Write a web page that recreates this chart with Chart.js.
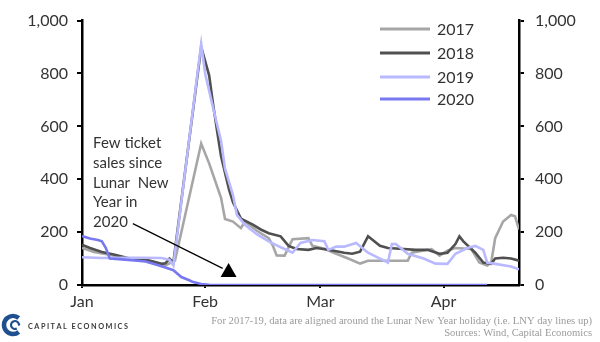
<!DOCTYPE html>
<html>
<head>
<meta charset="utf-8">
<script src="https://cdn.jsdelivr.net/npm/chart.js@4"></script>
<style>
  html, body { margin: 0; padding: 0; background: #fff; }
  #wrap { width: 600px; height: 342px; position: relative; }
</style>
</head>
<body>
<div id="wrap"><canvas id="lnyChart" width="600" height="342"></canvas></div>
<script>
// Days counted from 1 Jan; month ticks on the x axis
const monthLabels = ['Jan', 'Feb', 'Mar', 'Apr'];
const monthStartDays = [0, 31, 60, 91];
const yTicks = [0, 200, 400, 600, 800, 1000];

// Daily ticket sales, aligned on Lunar New Year
const days2017 = [0, 3, 7, 10, 14, 18, 21, 23.4, 30, 32, 35, 36, 38, 40, 41, 44, 47, 48, 49, 51, 53, 57, 58, 61, 64, 67, 70, 72, 76, 80, 82, 83, 88, 90, 92, 94, 98, 100, 102, 103, 104, 106, 108, 109, 110];
const sales2017 = [140, 125, 115, 100, 95, 88, 74, 92, 535, 460, 330, 250, 240, 215, 240, 205, 177, 150, 112, 111, 173, 177, 148, 137, 118, 100, 81, 92, 92, 92, 92, 122, 136, 111, 130, 140, 136, 85, 74, 85, 177, 240, 265, 260, 210];

const days2018 = [0, 2, 5, 8, 12, 16, 20, 21, 22, 23, 30, 32, 33, 34, 35, 37, 38, 40, 43, 45, 47, 50, 52, 54, 57, 59, 62, 66, 68, 70, 72, 75, 77, 81, 84, 87, 90, 92, 94, 95, 96, 98, 99, 101, 103, 104, 106, 108, 110];
const sales2018 = [152, 140, 125, 115, 100, 96, 80, 82, 100, 85, 900, 793, 683, 583, 487, 362, 313, 251, 228, 210, 196, 184, 148, 136, 133, 140, 133, 122, 118, 126, 184, 148, 140, 136, 133, 133, 118, 122, 155, 184, 165, 136, 122, 85, 80, 100, 103, 100, 92];

const days2019 = [0, 5, 10, 15, 20, 22, 23, 30, 31, 33, 35, 36, 38, 39, 41, 44, 47, 49, 51, 53, 55, 58, 61, 62, 64, 66, 69, 72, 75, 77, 78, 79, 82, 86, 89, 92, 94, 97, 99, 101, 102, 104, 108, 110];
const sales2019 = [105, 102, 103, 103, 102, 96, 74, 912, 800, 670, 546, 440, 340, 265, 228, 192, 165, 150, 136, 122, 159, 170, 166, 133, 145, 145, 159, 122, 100, 85, 155, 155, 118, 100, 81, 80, 118, 140, 148, 133, 85, 80, 70, 59];

const days2020 = [0, 2, 4, 5, 6, 7, 10, 14, 16, 19, 21, 23, 25, 27, 28, 30, 32, 35, 102];
const sales2020 = [185, 176, 170, 165, 140, 100, 97, 92, 89, 76, 66, 56, 30, 18, 11, 4, 1, 0, 0];

// Annotation: arrow from the note to the LNY 2020 marker
const arrowDays = [12.8, 35.4];
const arrowValues = [232, 63];
const markerDay = 36.9;
const markerValue = 48;
const noteDay = 2.8;
const noteValue = 535;
const noteLines = ['Few ticket', 'sales since', 'Lunar  New', 'Year in', '2020'];

const seriesNames = ['2017', '2018', '2019', '2020'];
const seriesColors = ['#a6a6a6', '#505050', '#b9b9ff', '#7878f0'];

const toPoints = (xs, ys) => xs.map((d, i) => ({ x: d, y: ys[i] }));

const FONT = 'Lato, "Noto Sans", sans-serif';
const TEXT = '#333';

const extrasPlugin = {
    id: 'extras',
    afterDraw(chart) {
        const c = chart.ctx;
        const xs = chart.scales.x;
        const ys = chart.scales.y;
        c.save();

        // note text next to the arrow
        c.fillStyle = TEXT;
        c.font = '15px ' + FONT;
        c.textAlign = 'left';
        c.textBaseline = 'middle';
        const nx = xs.getPixelForValue(noteDay);
        const ny = ys.getPixelForValue(noteValue);
        noteLines.forEach((t, i) => c.fillText(t, nx, ny + i * 19.6));

        // legend
        c.font = '16px ' + FONT;
        const rowY = [29, 53, 77, 99];
        seriesNames.forEach((name, i) => {
            c.strokeStyle = seriesColors[i];
            c.lineWidth = 3;
            c.beginPath();
            c.moveTo(380, rowY[i]);
            c.lineTo(430, rowY[i]);
            c.stroke();
            c.fillStyle = TEXT;
            c.fillText(name, 437, rowY[i] + 1);
        });

        // footer notes
        c.fillStyle = '#9a9a9a';
        c.font = '10.6px "Liberation Serif", serif';
        c.textAlign = 'right';
        c.fillText('For 2017-19, data are aligned around the Lunar New Year holiday (i.e. LNY day lines up)', 592, 321);
        c.fillText('Sources: Wind, Capital Economics', 592, 333);

        // logo mark
        c.strokeStyle = '#1f4f8f';
        c.lineWidth = 4.5;
        c.beginPath();
        c.arc(13, 325, 9, 0.28 * Math.PI, 1.72 * Math.PI);
        c.stroke();
        c.lineWidth = 2.2;
        c.beginPath();
        c.arc(15, 325, 4, 0.35 * Math.PI, 1.95 * Math.PI);
        c.lineTo(19.5, 325.5);
        c.stroke();

        // logo wordmark, letter spaced
        c.fillStyle = '#3a3a3a';
        c.font = 'bold 7.3px ' + FONT;
        c.textAlign = 'left';
        let lx = 28;
        for (const ch of 'CAPITAL ECONOMICS') {
            c.fillText(ch, lx, 327);
            lx += c.measureText(ch).width + 1.5;
        }
        c.restore();
    }
};

const ctx = document.getElementById('lnyChart');

new Chart(ctx, {
    type: 'line',
    data: {
        datasets: [
            { label: seriesNames[0], data: toPoints(days2017, sales2017), borderColor: seriesColors[0], order: 4 },
            { label: seriesNames[1], data: toPoints(days2018, sales2018), borderColor: seriesColors[1], order: 3 },
            { label: seriesNames[2], data: toPoints(days2019, sales2019), borderColor: seriesColors[2], order: 2 },
            { label: seriesNames[3], data: toPoints(days2020, sales2020), borderColor: seriesColors[3], order: 1 },
            {
                label: 'arrow',
                data: toPoints(arrowDays, arrowValues),
                borderColor: '#000',
                borderWidth: 1.2,
                order: 0
            },
            {
                label: 'marker',
                data: [{ x: markerDay, y: markerValue }],
                showLine: false,
                pointStyle: 'triangle',
                pointRadius: 9.2,
                backgroundColor: '#000',
                borderColor: '#000',
                borderWidth: 0,
                order: 0
            }
        ]
    },
    options: {
        responsive: false,
        animation: false,
        layout: { padding: { top: 14, left: 0, right: 0, bottom: 0 } },
        elements: {
            line: { borderWidth: 2.6, tension: 0 },
            point: { radius: 0 }
        },
        plugins: {
            legend: { display: false },
            tooltip: { enabled: false }
        },
        scales: {
            x: {
                type: 'linear',
                min: 0,
                max: 110,
                afterBuildTicks: axis => { axis.ticks = monthStartDays.map(v => ({ value: v })); },
                afterFit: s => { s.height = 57; },
                ticks: {
                    callback: v => monthLabels[monthStartDays.indexOf(v)],
                    color: TEXT,
                    font: { family: FONT, size: 16 },
                    padding: 4,
                    maxRotation: 0
                },
                grid: { drawOnChartArea: false, color: '#000', lineWidth: 2, tickLength: 3 },
                border: { color: '#000', width: 2.5 }
            },
            y: {
                position: 'left',
                min: 0,
                max: 1000,
                afterBuildTicks: axis => { axis.ticks = yTicks.map(v => ({ value: v })); },
                afterFit: s => { s.width = 82; },
                ticks: {
                    callback: v => v.toLocaleString('en-US'),
                    color: TEXT,
                    font: { family: FONT, size: 16 },
                    padding: 9
                },
                grid: { drawOnChartArea: false, color: '#000', lineWidth: 2, tickLength: 5 },
                border: { color: '#000', width: 2.5 }
            },
            y2: {
                position: 'right',
                min: 0,
                max: 1000,
                afterBuildTicks: axis => { axis.ticks = yTicks.map(v => ({ value: v })); },
                afterFit: s => { s.width = 81; },
                ticks: {
                    callback: v => v.toLocaleString('en-US'),
                    color: TEXT,
                    font: { family: FONT, size: 16 },
                    padding: 11
                },
                grid: { drawOnChartArea: false, color: '#000', lineWidth: 2, tickLength: 5 },
                border: { color: '#000', width: 2.5 }
            }
        }
    },
    plugins: [extrasPlugin]
});
</script>
</body>
</html>
